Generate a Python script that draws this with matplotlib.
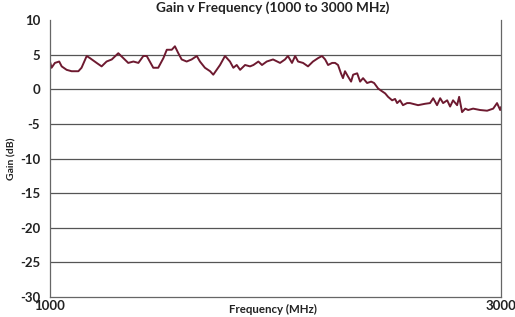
import matplotlib
matplotlib.use("Agg")
import matplotlib.pyplot as plt

freq_mhz = [1000, 1007, 1022, 1041, 1052, 1074, 1096, 1126, 1140, 1163, 1177, 1207,
            1229, 1251, 1274, 1303, 1325, 1347, 1370, 1392, 1414, 1429, 1458, 1480,
            1503, 1518, 1540, 1554, 1569, 1584, 1606, 1628, 1651, 1665, 1687, 1710,
            1724, 1739, 1754, 1776, 1798, 1813, 1828, 1843, 1865, 1887, 1902, 1924,
            1940, 1961, 1989, 2020, 2042, 2055, 2073, 2087, 2100, 2122, 2144, 2166,
            2189, 2206, 2220, 2233, 2251, 2264, 2277, 2290, 2299, 2308, 2322, 2335,
            2344, 2362, 2375, 2388, 2406, 2424, 2437, 2455, 2468, 2486, 2499, 2517,
            2530, 2539, 2552, 2565, 2583, 2596, 2632, 2663, 2685, 2699, 2716, 2730,
            2743, 2761, 2774, 2787, 2805, 2814, 2827, 2841, 2854, 2876, 2907, 2938,
            2965, 2982, 2996, 3000]
gain_db = [4.0, 3.1, 3.8, 4.0, 3.3, 2.8, 2.6, 2.6, 3.1, 4.8, 4.5, 3.8,
           3.3, 4.0, 4.3, 5.2, 4.5, 3.8, 4.0, 3.8, 4.8, 4.8, 3.1, 3.1,
           4.5, 5.7, 5.7, 6.2, 5.2, 4.3, 4.0, 4.3, 4.8, 4.0, 3.1, 2.6,
           2.1, 2.8, 3.5, 4.8, 4.0, 3.1, 3.5, 2.8, 3.5, 3.3, 3.5, 4.0,
           3.5, 4.0, 4.3, 3.8, 4.3, 4.8, 3.8, 4.8, 4.0, 3.8, 3.3, 4.0,
           4.5, 4.8, 4.3, 3.5, 3.8, 3.8, 3.5, 2.3, 1.6, 2.6, 1.8, 1.1,
           2.1, 2.3, 1.1, 1.6, 0.9, 1.1, 0.9, 0.1, -0.2, -0.6, -1.1, -1.6,
           -1.4, -2.0, -1.6, -2.3, -2.0, -2.0, -2.3, -2.1, -2.0, -1.3, -2.3, -1.3,
           -2.0, -1.6, -2.5, -1.6, -2.3, -1.1, -3.3, -2.8, -3.0, -2.8, -3.0, -3.1,
           -2.8, -2.0, -3.0, -2.6]
y_ticks = [-30, -25, -20, -15, -10, -5, 0, 5, 10]
x_ticks = [1000, 3000]

plt.rcParams['font.family'] = ['Lato', 'DejaVu Sans']
plt.rcParams['axes.unicode_minus'] = False
fig = plt.figure(figsize=(5.15, 3.17), dpi=100)
ax = fig.add_axes([0.097, 0.063, 0.876, 0.874])
ax.plot(freq_mhz, gain_db, color='#6e1a30', lw=1.4)
ax.set_xlim(1000, 3000)
ax.set_ylim(-30, 10)
ax.set_yticks(y_ticks)
ax.set_xticks(x_ticks)
for v in y_ticks[1:-1]:
    ax.axhline(v, color='#555555', lw=0.9, zorder=0)
for s in ['left', 'right', 'bottom']:
    ax.spines[s].set_color('#666666')
    ax.spines[s].set_linewidth(0.9)
ax.spines['top'].set_visible(False)
ax.tick_params(length=0, labelsize=9.5, colors='#222222')
ax.tick_params(axis='y', pad=7)
ax.tick_params(axis='x', pad=2)
for lab in ax.get_yticklabels() + ax.get_xticklabels():
    lab.set_fontweight('bold')
ax.text(0.495, -0.025, 'Frequency (MHz)', transform=ax.transAxes, ha='center', va='top',
        fontsize=8.3, fontweight='bold', color='#222222')
fig.text(0.024, 0.5, 'Gain (dB)', rotation=90, ha='center', va='center',
         fontsize=7.5, fontweight='bold', color='#222222')
fig.text(0.53, 0.997, 'Gain v Frequency (1000 to 3000 MHz)', ha='center', va='top',
         fontsize=9.8, fontweight='bold', color='#222222')
fig.savefig('out.png', dpi=100)
